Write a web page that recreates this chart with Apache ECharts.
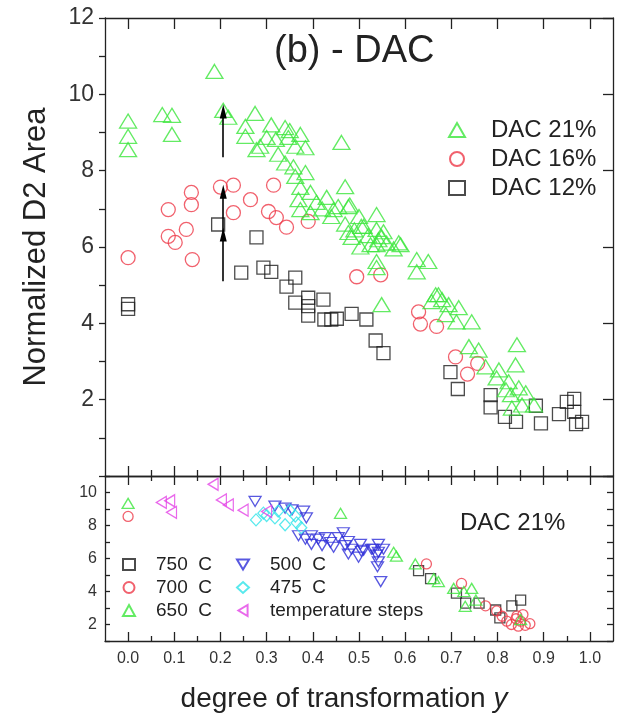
<!DOCTYPE html>
<html><head><meta charset="utf-8">
<script src="https://cdn.jsdelivr.net/npm/echarts@6/dist/echarts.min.js"></script>
<style>html,body{margin:0;padding:0;background:#fff}#c{width:621px;height:714px}</style>
</head><body><div id="c"></div>
<script>
// ---------- DATA (top panel) ----------
const dac21 = [
[0.000,9.30],[0.000,8.90],[0.000,8.55],
[0.074,9.47],[0.095,9.45],[0.095,8.95],
[0.187,10.60],[0.206,9.58],[0.217,9.40],
[0.254,9.16],[0.254,8.90],[0.275,9.50],[0.278,8.55],[0.286,8.64],
[0.300,8.87],[0.310,9.20],[0.320,8.82],[0.325,8.43],[0.340,9.13],[0.340,8.20],
[0.347,8.87],[0.350,9.05],[0.358,8.10],[0.362,8.64],[0.362,7.85],
[0.373,8.95],[0.373,7.56],[0.369,7.24],[0.373,6.98],[0.384,8.60],[0.384,7.95],
[0.395,7.43],[0.395,6.90],[0.408,7.17],[0.420,7.00],[0.430,7.30],[0.440,6.80],[0.445,6.98],
[0.455,7.06],[0.462,8.74],[0.470,7.58],[0.477,7.06],[0.480,7.10],[0.470,6.60],[0.477,6.38],[0.484,6.25],[0.490,6.45],
[0.500,6.80],[0.503,6.00],[0.505,6.54],[0.510,6.54],[0.520,6.30],[0.525,6.06],
[0.538,6.85],[0.538,6.46],[0.538,6.06],[0.538,5.62],[0.538,5.46],[0.542,6.19],[0.549,6.27],[0.549,4.49],[0.553,6.40],
[0.560,6.10],[0.575,5.95],[0.586,6.11],[0.590,6.06],
[0.625,5.67],[0.625,5.35],[0.650,5.62],
[0.657,4.57],[0.666,4.75],[0.672,4.75],[0.680,4.62],[0.688,4.23],[0.694,4.49],[0.711,4.04],[0.716,4.41],[0.744,4.04],
[0.738,3.39],[0.759,3.30],[0.774,2.86],[0.798,2.57],[0.803,2.78],[0.818,2.26],[0.824,2.47],[0.829,2.13],[0.831,1.78],
[0.839,2.91],[0.842,3.44],[0.846,2.31],[0.853,1.86],[0.861,2.18],[0.879,1.86]
];
const dac16 = [
[0.000,5.72],[0.087,6.98],[0.087,6.28],[0.102,6.12],[0.126,6.46],[0.137,7.43],[0.137,7.11],[0.139,5.67],
[0.200,7.57],[0.228,7.62],[0.228,6.90],[0.265,7.24],[0.304,6.93],[0.315,7.62],[0.321,6.77],[0.343,6.52],[0.390,6.67],
[0.495,5.22],[0.547,5.27],[0.629,4.30],[0.633,3.98],[0.668,3.92],[0.709,3.12],[0.735,2.67],[0.757,2.95]
];
const dac12 = [
[0.000,4.50],[0.000,4.38],[0.195,6.59],[0.245,5.33],[0.278,6.25],[0.293,5.46],[0.310,5.35],
[0.343,4.96],[0.362,5.20],[0.362,4.54],[0.390,4.67],[0.390,4.45],[0.390,4.20],[0.423,4.62],
[0.425,4.10],[0.440,4.10],[0.452,4.12],[0.484,4.25],[0.516,4.10],[0.536,3.55],[0.553,3.22],
[0.698,2.72],[0.714,2.28],[0.785,2.12],[0.785,1.80],[0.816,1.55],[0.840,1.42],[0.883,1.84],
[0.894,1.38],[0.933,1.62],[0.950,1.94],[0.966,2.02],[0.966,1.68],[0.970,1.36],[0.983,1.42]
];
// arrows: [x, yFrom, yTo]
const arrows = [[0.206,8.35,9.55],[0.206,5.10,6.33],[0.206,6.33,7.45]];

// ---------- DATA (bottom panel, DAC 21%) ----------
const t750 = [[0.629,5.26],[0.655,4.78],[0.711,3.90],[0.731,3.30],[0.760,3.30],[0.796,2.88],[0.805,2.40],[0.831,3.13],[0.850,3.48]];
const t700 = [[0.000,8.55],[0.646,5.67],[0.722,4.49],[0.774,3.13],[0.798,2.82],[0.810,2.50],[0.820,2.20],[0.830,2.00],
[0.842,2.52],[0.845,1.90],[0.850,2.20],[0.860,1.95],[0.870,2.05],[0.840,2.35],[0.855,2.60]];
const t650 = [[0.000,9.34],[0.460,8.74],[0.575,6.38],[0.581,6.14],[0.622,5.67],[0.662,4.78],[0.672,4.60],[0.705,4.19],
[0.727,4.00],[0.744,4.19],[0.753,3.48],[0.730,3.10],[0.850,2.30]];
const t500 = [[0.275,9.46],[0.318,9.17],[0.340,9.05],[0.355,8.95],[0.380,8.87],[0.386,8.46],[0.369,7.38],[0.384,7.17],
[0.397,7.38],[0.412,7.17],[0.427,7.27],[0.397,6.86],[0.420,6.78],[0.438,6.97],[0.445,6.68],[0.455,7.27],[0.466,7.56],
[0.470,6.78],[0.477,7.03],[0.484,6.56],[0.503,6.86],[0.505,6.44],[0.510,6.50],[0.527,6.56],[0.531,6.56],[0.542,6.86],
[0.542,6.38],[0.553,6.56],[0.538,6.20],[0.542,5.80],[0.540,5.50],[0.547,4.60],[0.477,6.27],[0.499,6.08]];
const t475 = [[0.277,8.34],[0.293,8.75],[0.300,8.60],[0.318,8.46],[0.325,8.87],[0.340,8.05],[0.350,8.93],[0.362,8.58],[0.365,8.16],[0.375,7.87]];
const tSteps = [[0.072,9.40],[0.090,9.50],[0.094,8.80],[0.184,10.50],[0.202,9.55],[0.217,9.25],[0.249,8.93],[0.300,8.85]];

// ---------- TICKS ----------
const xMajor = [0,0.1,0.2,0.3,0.4,0.5,0.6,0.7,0.8,0.9,1.0];
const xMinor = [0.05,0.15,0.25,0.35,0.45,0.55,0.65,0.75,0.85,0.95];

const FONT = "'Liberation Sans', Arial, Helvetica, sans-serif";
const INK = '#222';
const GREEN = '#3ce63c', RED = '#ee3a48', BLACK = '#1e1e1e', BLUE = '#2e2ed8', CYAN = '#2fe3e8', MAG = '#e444e6';
const DOWN_TRI = 'path://M0,0 L12,0 L6,10 Z';
const LEFT_TRI = 'path://M10,0 L10,12 L0,6 Z';

function xAx(grid, pos, vals, len, opts) {
  return Object.assign({
    type:'value', gridIndex:grid, position:pos, min:-0.05, max:1.05,
    axisLine:{show:true, onZero:false, lineStyle:{color:INK, width:1.3}},
    axisTick:{show:true, inside:true, length:len, customValues:vals, lineStyle:{color:INK, width:1.3}},
    axisLabel:{show:false}, splitLine:{show:false}
  }, opts || {});
}
const xAxes = [
  xAx(0,'bottom',xMajor,10),
  xAx(0,'bottom',xMinor,6,{axisLine:{show:false,onZero:false}}),
  xAx(0,'top',xMajor,11),
  xAx(1,'bottom',xMajor,9,{
    axisLabel:{show:true, customValues:xMajor, formatter:v=>v.toFixed(1), fontSize:16, color:'#333', fontFamily:FONT, margin:10},
    name:'degree of transformation {i|y}', nameLocation:'middle', nameGap:44,
    nameTextStyle:{fontSize:28, color:INK, fontFamily:FONT, padding:[0,30,0,0], rich:{i:{fontSize:28, fontStyle:'italic', color:INK, fontFamily:FONT}}}
  }),
  xAx(1,'bottom',xMinor,5,{axisLine:{show:false,onZero:false}}),
  xAx(1,'top',xMajor,9),
  xAx(1,'top',xMinor,5,{axisLine:{show:false,onZero:false}})
];
const yAxes = [
  {type:'value', gridIndex:0, position:'left', min:0, max:12, interval:1,
   axisLine:{show:true, onZero:false, lineStyle:{color:INK, width:1.3}},
   axisTick:{show:true, inside:false, length:6, lineStyle:{color:INK, width:1.3}},
   axisLabel:{show:true, fontSize:23, color:'#333', fontFamily:FONT, margin:11, formatter:v=>(v>0 && v%2===0)?String(v):''},
   splitLine:{show:false},
   name:'Normalized D2 Area', nameLocation:'middle', nameGap:53,
   nameTextStyle:{fontSize:31, color:INK, fontFamily:FONT}},
  {type:'value', gridIndex:0, position:'right', min:0, max:12, interval:2,
   axisLine:{show:true, onZero:false, lineStyle:{color:INK, width:1.3}},
   axisTick:{show:true, inside:true, length:10, lineStyle:{color:INK, width:1.3}},
   axisLabel:{show:false}, splitLine:{show:false}},
  {type:'value', gridIndex:1, position:'left', min:1, max:11, interval:1,
   axisLine:{show:true, onZero:false, lineStyle:{color:INK, width:1.3}},
   axisTick:{show:true, inside:true, length:5, lineStyle:{color:INK, width:1.3}},
   axisLabel:{show:true, fontSize:16, color:'#333', fontFamily:FONT, margin:8, formatter:v=>(v%2===0)?String(v):''},
   splitLine:{show:false}},
  {type:'value', gridIndex:1, position:'right', min:1, max:11, interval:1,
   axisLine:{show:true, onZero:false, lineStyle:{color:INK, width:1.3}},
   axisTick:{show:true, inside:true, length:6, lineStyle:{color:INK, width:1.3}},
   axisLabel:{show:false}, splitLine:{show:false}}
];

function sc(name, data, xi, yi, symbol, size, color, rot) {
  return {type:'scatter', name:name, data:data, xAxisIndex:xi, yAxisIndex:yi,
    symbol:symbol, symbolSize:size, symbolRotate:rot||0,
    itemStyle:{color:'rgba(0,0,0,0)', borderColor:color, borderWidth:1.3},
    emphasis:{disabled:true}, animation:false};
}

const series = [
  sc('DAC 12%', dac12, 0, 0, 'rect', 13, BLACK),
  sc('DAC 16%', dac16, 0, 0, 'circle', 14, RED),
  sc('DAC 21%', dac21, 0, 0, 'triangle', [17,14], GREEN),
  {type:'scatter', name:'arrows', data:[], xAxisIndex:0, yAxisIndex:0, animation:false,
   markLine:{silent:true, animation:false, symbol:['none','triangle'], symbolSize:[7,14],
     label:{show:false}, lineStyle:{color:'#000', width:1.6, type:'solid'},
     itemStyle:{color:'#000'},
     data: arrows.map(a=>[{coord:[a[0],a[1]]},{coord:[a[0],a[2]]}])}},
  sc('750  C', t750, 3, 2, 'rect', 10, BLACK),
  sc('700  C', t700, 3, 2, 'circle', 10, RED),
  sc('650  C', t650, 3, 2, 'triangle', [12,10], GREEN),
  sc('500  C', t500, 3, 2, DOWN_TRI, [12,10], BLUE),
  sc('475  C', t475, 3, 2, 'diamond', [11,12], CYAN),
  sc('temperature steps', tSteps, 3, 2, LEFT_TRI, [10,12], MAG)
];

const option = {
  backgroundColor:'#fff', animation:false,
  grid:[{left:105, top:18, width:508, height:458}, {left:105, top:476, width:508, height:166}],
  xAxis:xAxes, yAxis:yAxes, series:series,
  title:{text:'(b) - DAC', left:274, top:33, padding:0, textStyle:{fontSize:38, fontWeight:'normal', color:INK, fontFamily:FONT}},
  legend:[
    {data:['DAC 21%','DAC 16%','DAC 12%'], orient:'vertical', left:443, top:113, itemWidth:16, itemHeight:14, itemGap:5,
     selectedMode:false, textStyle:{fontSize:24, color:INK, fontFamily:FONT, padding:[0,0,0,21], lineHeight:24}},
    {data:['750  C','700  C','650  C'], orient:'vertical', left:117, top:550, itemWidth:12, itemHeight:11, itemGap:4,
     selectedMode:false, textStyle:{fontSize:19, color:INK, fontFamily:FONT, padding:[0,0,0,16], lineHeight:19}},
    {data:['500  C','475  C','temperature steps'], orient:'vertical', left:231, top:550, itemWidth:12, itemHeight:11, itemGap:4,
     selectedMode:false, textStyle:{fontSize:19, color:INK, fontFamily:FONT, padding:[0,0,0,16], lineHeight:19}}
  ],
  graphic:[{type:'text', left:460, top:511, style:{text:'DAC 21%', fontSize:24, fill:INK, fontFamily:FONT}}]
};
const chart = echarts.init(document.getElementById('c'), null, {renderer:'canvas'});
chart.setOption(option);
</script></body></html>
